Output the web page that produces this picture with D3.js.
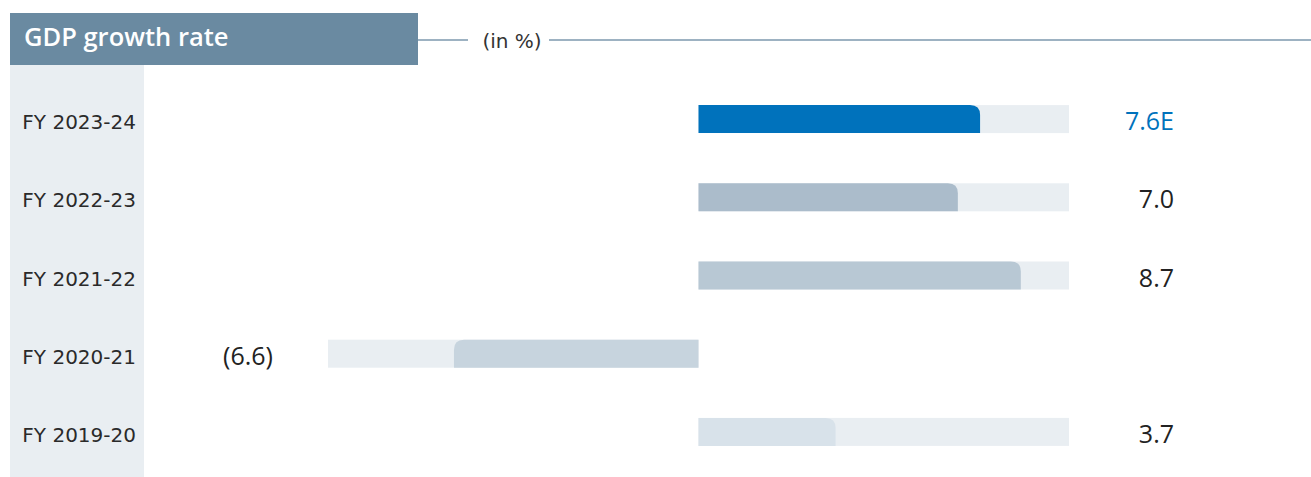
<!DOCTYPE html>
<html>
<head>
<meta charset="utf-8">
<script src="https://cdn.jsdelivr.net/npm/d3@7"></script>
<style>
  html, body { margin: 0; padding: 0; background: #fff; }
  svg { display: block; }
</style>
</head>
<body>
<svg id="chart" width="1311" height="477"></svg>
<script>
// GDP growth rate by fiscal year (in %)
const categories = ["FY 2023-24", "FY 2022-23", "FY 2021-22", "FY 2020-21", "FY 2019-20"];
const values = [7.6, 7.0, 8.7, -6.6, 3.7];
const valueLabels = ["7.6E", "7.0", "8.7", "(6.6)", "3.7"];
const barColors = ["#0072bc", "#abbccb", "#b8c8d4", "#c7d4de", "#d8e2ea"];
const labelColors = ["#0072bc", "#222222", "#222222", "#222222", "#222222"];

const svg = d3.select("#chart");

const x = d3.scaleLinear().domain([-10, 10]).range([328, 1069]);
const y = d3.scalePoint().domain(categories).range([80, 471]).padding(0.5);
const barH = 28;
const r = 10;

// header: title block and rule
svg.append("rect").attr("x", 10).attr("y", 13).attr("width", 408).attr("height", 52).attr("fill", "#6a8aa1");
svg.append("text").attr("x", 24).attr("y", 46)
  .attr("font-family", "'Open Sans', sans-serif").attr("font-weight", 600)
  .attr("font-size", 25.5).attr("fill", "#fff").text("GDP growth rate");
svg.append("line").attr("x1", 418).attr("x2", 468).attr("y1", 40).attr("y2", 40)
  .attr("stroke", "#7d99ae").attr("stroke-width", 1.6);
svg.append("line").attr("x1", 549).attr("x2", 1311).attr("y1", 40).attr("y2", 40)
  .attr("stroke", "#7d99ae").attr("stroke-width", 1.6);
svg.append("text").attr("x", 512).attr("y", 48).attr("text-anchor", "middle")
  .attr("font-family", "'DejaVu Sans', sans-serif").attr("font-size", 20)
  .attr("fill", "#333").text("(in %)");

// category label column
svg.append("rect").attr("x", 10).attr("y", 65).attr("width", 134).attr("height", 412).attr("fill", "#e9eef2");

const rows = svg.append("g").selectAll("g").data(categories).join("g");

rows.append("text")
  .attr("x", 136).attr("y", d => y(d) + 10).attr("text-anchor", "end")
  .attr("font-family", "'DejaVu Sans', sans-serif").attr("font-size", 20)
  .attr("fill", "#2a2a2a").text(d => d);

// background tracks
rows.append("rect")
  .attr("x", (d, i) => values[i] < 0 ? x(-10) : x(0))
  .attr("width", (d, i) => values[i] < 0 ? x(0) - x(-10) : x(10) - x(0))
  .attr("y", d => y(d) - barH / 2).attr("height", barH)
  .attr("fill", "#e9eef2");

// value bars, rounded on the outer top corner
function barPath(v, cy) {
  const x0 = x(0), x1 = x(v), top = cy - barH / 2, bot = cy + barH / 2;
  if (v >= 0) {
    return `M${x0},${bot}V${top}H${x1 - r}Q${x1},${top} ${x1},${top + r}V${bot}Z`;
  }
  return `M${x0},${bot}V${top}H${x1 + r}Q${x1},${top} ${x1},${top + r}V${bot}Z`;
}
rows.append("path")
  .attr("d", (d, i) => barPath(values[i], y(d)))
  .attr("fill", (d, i) => barColors[i]);

// value labels
rows.append("text")
  .attr("x", (d, i) => values[i] < 0 ? 273 : 1174)
  .attr("y", d => y(d) + 11).attr("text-anchor", "end")
  .attr("font-family", "'Open Sans', sans-serif").attr("font-size", 25)
  .attr("fill", (d, i) => labelColors[i]).text((d, i) => valueLabels[i]);
</script>
</body>
</html>
